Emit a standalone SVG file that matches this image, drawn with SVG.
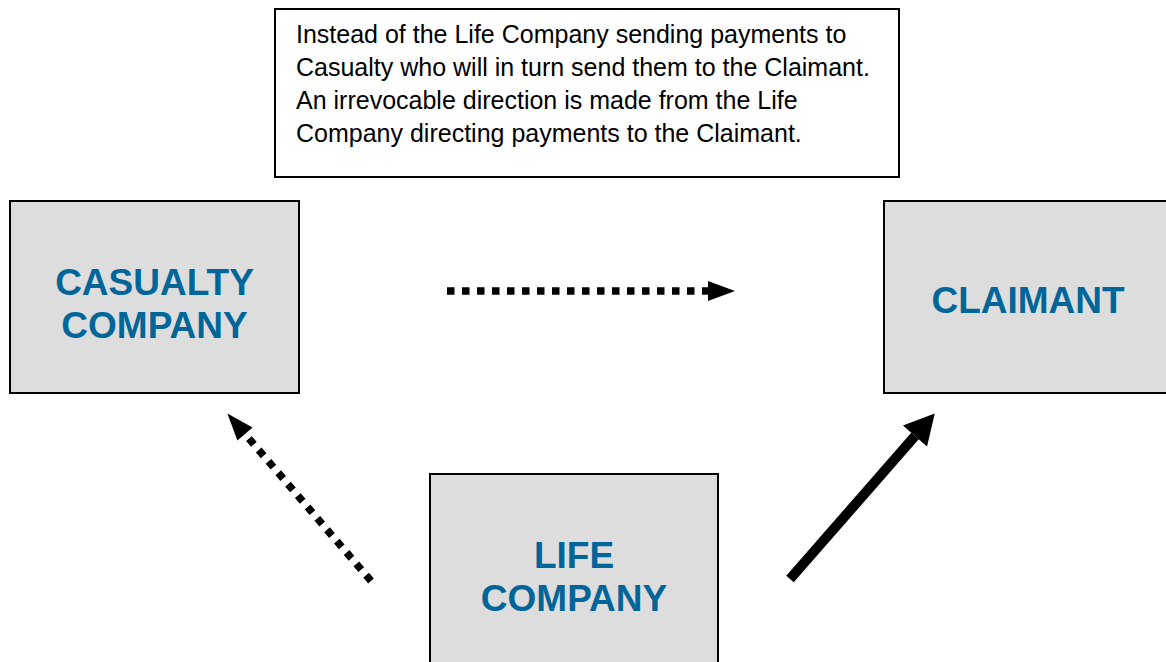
<svg xmlns="http://www.w3.org/2000/svg" width="1166" height="662" viewBox="0 0 1166 662">
<style>
.box{fill:#dddddd;stroke:#000;stroke-width:2}
.note{fill:#fff;stroke:#000;stroke-width:2}
.lbl{font-family:"Liberation Sans",Arial,sans-serif;font-weight:bold;font-size:37px;fill:#006699;text-anchor:middle}
.txt{font-family:"Liberation Sans",Arial,sans-serif;font-size:25px;fill:#000}
.dot{fill:none;stroke:#000;stroke-width:7.5;stroke-dasharray:7.5 7.5}
.solid{fill:none;stroke:#000;stroke-width:10}
</style>
<defs>
<marker id="headS" markerUnits="userSpaceOnUse" orient="auto" refX="0" refY="0" markerWidth="30" markerHeight="24" overflow="visible">
<path d="M0,-10 L27,0 L0,10 z" fill="#000"/>
</marker>
<marker id="headL" markerUnits="userSpaceOnUse" orient="auto" refX="0" refY="0" markerWidth="32" markerHeight="34" overflow="visible">
<path d="M0,-16 L30,0 L0,16 z" fill="#000"/>
</marker>
</defs>
<rect width="1166" height="662" fill="#fff"/>
<g id="note">
<rect class="note" x="275" y="9" width="624" height="168"/>
<text class="txt" x="296" y="43">Instead of the Life Company sending payments to</text>
<text class="txt" x="296" y="76">Casualty who will in turn send them to the Claimant.</text>
<text class="txt" x="296" y="109">An irrevocable direction is made from the Life</text>
<text class="txt" x="296" y="142">Company directing payments to the Claimant.</text>
</g>
<g id="casualty">
<rect class="box" x="10" y="201" width="289" height="192"/>
<text class="lbl" x="154.5" y="295">CASUALTY</text>
<text class="lbl" x="154.5" y="338">COMPANY</text>
</g>
<g id="claimant">
<rect class="box" x="884" y="201" width="290" height="192"/>
<text class="lbl" x="1028" y="313">CLAIMANT</text>
</g>
<g id="life">
<rect class="box" x="430" y="474" width="288" height="200"/>
<text class="lbl" x="574" y="568">LIFE</text>
<text class="lbl" x="574" y="611">COMPANY</text>
</g>
<g id="connectors">
<line class="dot" x1="447" y1="291" x2="708" y2="291" marker-end="url(#headS)"/>
<line class="dot" x1="371" y1="581" x2="245" y2="434" marker-end="url(#headS)"/>
<line class="solid" x1="790" y1="579" x2="915" y2="436" marker-end="url(#headL)"/>
</g>
</svg>
